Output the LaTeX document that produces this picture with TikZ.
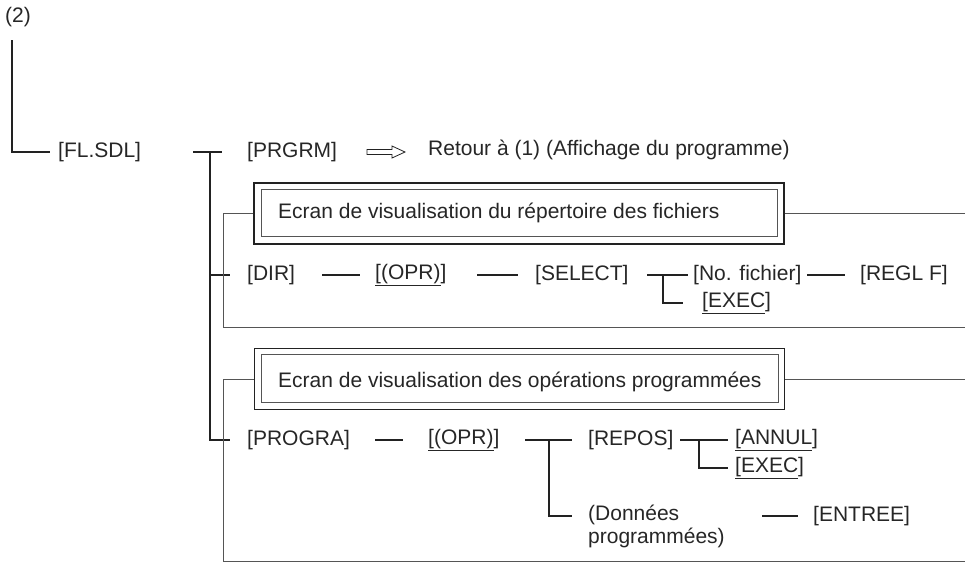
\documentclass[tikz,border=0pt]{standalone}
\usepackage{fontspec}
\setmainfont{Liberation Sans}
\definecolor{ink}{HTML}{222222}
\definecolor{txt}{HTML}{262626}
\definecolor{soft}{HTML}{555555}
\newcommand\lbfont{\fontsize{21}{25}\selectfont}
\newcommand\ul[1]{\underline{#1}}
\tikzset{
  lbl/.style={anchor=west, inner sep=0pt, font=\lbfont, text=txt},
  trunk/.style={draw=ink, line width=1.4pt},
  stub/.style={draw=ink, line width=1.1pt},
  guide/.style={draw=soft, line width=0.9pt},
  framebox/.style={draw=ink, line width=1.4pt, minimum width=530pt, minimum height=61pt, inner sep=0pt},
  innerframe/.style={draw=soft, line width=0.9pt},
  hollowarrow/.style={draw=ink, line width=0.8pt, line join=miter}
}
\begin{document}
\begin{tikzpicture}[x=1pt,y=-1pt]
\useasboundingbox (0,0) rectangle (965,563);

% ---- labels -------------------------------------------------------
\node[lbl] (two)    at (5,17)    {(2)};
\node[lbl] (fl)     at (58,152)  {[FL.SDL]};
\node[lbl] (prgrm)  at (247,152) {[PRGRM]};
\node[lbl] (ret)    at (428,150) {Retour à (1) (Affichage du programme)};

\node[lbl] (dir)    at (247,275) {[DIR]};
\node[lbl] (opr1)   at (375,275) {\ul{[(OPR)}]};
\node[lbl] (sel)    at (535,275) {[SELECT]};
\node[lbl] (nof)    at (693,275) {[No. fichier]};
\node[lbl] (regl)   at (860,275) {[REGL F]};
\node[lbl] (exec1)  at (702,303) {\ul{[EXEC}]};

\node[lbl] (progra) at (247,440) {[PROGRA]};
\node[lbl] (opr2)   at (428,440) {\ul{[(OPR)}]};
\node[lbl] (repos)  at (588,440) {[REPOS]};
\node[lbl] (annul)  at (735,440) {\ul{[ANNUL}]};
\node[lbl] (exec2)  at (735,468) {\ul{[EXEC}]};
\node[lbl, align=left, anchor=north west] (don) at (588,505) {(Données\\[-2pt]programmées)};
\node[lbl] (entree) at (813,516) {[ENTREE]};

% ---- hollow "go to" arrow ----------------------------------------
\coordinate (ar) at (367,152);
\draw[hollowarrow] (ar) ++(0,-2.5) -- ++(25,0) -- ++(0,-3.5) -- ++(13,6) -- ++(-13,6)
      -- ++(0,-3.5) -- ++(-25,0) -- cycle;

% ---- framed screen titles ----------------------------------------
\node[framebox] (box1) at (519,213.5) {};
\draw[innerframe] ([shift={(8,7)}]box1.north west) rectangle ([shift={(-7,-8)}]box1.south east);
\node[lbl] (box1t) at (278,213) {Ecran de visualisation du répertoire des fichiers};

\node[framebox] (box2) at (519.5,379) {};
\draw[innerframe] ([shift={(8,7)}]box2.north west) rectangle ([shift={(-7,-8)}]box2.south east);
\node[lbl] (box2t) at (278,382) {Ecran de visualisation des opérations programmées};

% ---- junction points ---------------------------------------------
\coordinate (top)   at (12,40);
\coordinate (c0)    at (12,152);
\coordinate (c1)    at (50,152);
\coordinate (t0)    at (193,152);
\coordinate (t1)    at (222,152);
\coordinate (tj)    at (210,152);
\coordinate (tdir)  at (210,275);
\coordinate (tprg)  at (210,440);
\coordinate (gx)    at (223,0);
\coordinate (rx)    at (965,0);
\coordinate (g1b)   at (223,327);
\coordinate (g1e)   at (965,327);
\coordinate (g2b)   at (223,561);
\coordinate (g2e)   at (965,561);

% ---- main tree ----------------------------------------------------
\draw[trunk] (top) -- (c0) -- (c1);
\draw[trunk] (t0) -- (t1);
\draw[trunk] (tj) -- (tprg) -- (230,440);
\draw[trunk] (tdir) -- (230,275);

% ---- grey brackets round each screen -------------------------------
\draw[guide] (box1.west) -- (box1.west -| gx) -- (g1b) -- (g1e);
\draw[guide] (box1.east) -- (box1.east -| rx);
\draw[guide] (box2.west) -- (box2.west -| gx) -- (g2b) -- (g2e);
\draw[guide] (box2.east) -- (box2.east -| rx);

% ---- DIR branch ---------------------------------------------------
\draw[stub] (322,275) -- (360,275);
\draw[stub] (477,275) -- (518,275);
\draw[stub] (647,275) -- (688,275);
\draw[stub] (663,275) |- (683,303);
\draw[stub] (807,275) -- (845,275);

% ---- PROGRA branch ------------------------------------------------
\draw[stub] (375,440) -- (403,440);
\draw[stub] (525,440) -- (572,440);
\draw[stub] (549,440) |- (572,516);
\draw[stub] (680,440) -- (728,440);
\draw[stub] (699,440) |- (728,468);
\draw[stub] (762,516) -- (798,516);
\end{tikzpicture}
\end{document}
